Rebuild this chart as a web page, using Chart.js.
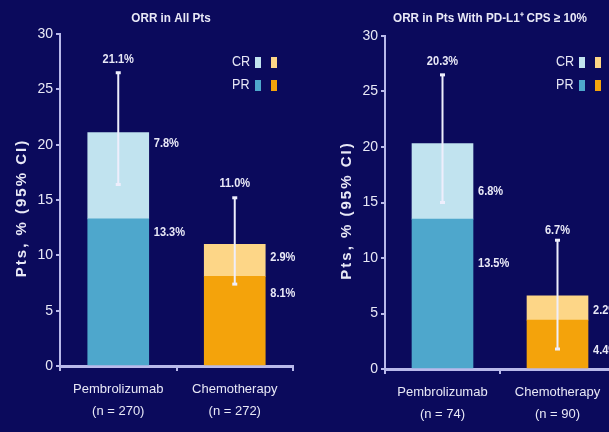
<!DOCTYPE html>
<html>
<head>
<meta charset="utf-8">
<script src="https://cdn.jsdelivr.net/npm/chart.js@4/dist/chart.umd.min.js"></script>
<style>
  html, body { margin: 0; padding: 0; background: #0b0a5c; overflow: hidden; }
  body { width: 609px; height: 432px; position: relative; }
  .panel { position: absolute; top: 0; width: 305px; height: 432px; }
  #left { left: 0; }
  #right { left: 320px; }
</style>
</head>
<body>
<div class="panel" id="left"><canvas id="c1" width="305" height="432"></canvas></div>
<div class="panel" id="right"><canvas id="c2" width="305" height="432"></canvas></div>
<script>
// ---- data ----
const armsAll = [["Pembrolizumab", "(n = 270)"], ["Chemotherapy", "(n = 272)"]];
const prAll = [13.3, 8.1];
const crAll = [7.8, 2.9];
const totalAll = [21.1, 11.0];
const ciLowAll = [16.4, 7.4];
const ciHighAll = [26.5, 15.2];

const armsCps = [["Pembrolizumab", "(n = 74)"], ["Chemotherapy", "(n = 90)"]];
const prCps = [13.5, 4.4];
const crCps = [6.8, 2.2];
const totalCps = [20.3, 6.7];
const ciLowCps = [15.0, 1.8];
const ciHighCps = [26.5, 11.6];

const yTicks = [0, 5, 10, 15, 20, 25, 30];

// ---- style ----
const FONT = "'Liberation Sans', Arial, sans-serif";
const TEXT = "#e8e8f6";
const AXIS = "#b9b9ea";
const PR_COLORS = ["#4ea7cc", "#f4a30b"];
const CR_COLORS = ["#c1e3ef", "#fdd687"];

// text squeezed horizontally, like a narrow typeface
function narrowText(ctx, str, x, y, align, squeeze) {
  ctx.save();
  ctx.translate(x, y);
  ctx.scale(squeeze, 1);
  ctx.textAlign = align;
  ctx.fillText(str, 0, 0);
  ctx.restore();
}

function makePanel(canvasId, cfg) {
  const overlay = {
    id: "overlay",
    afterDatasetsDraw(chart) {
      const ctx = chart.ctx;
      const x = chart.scales.x, y = chart.scales.y;
      const area = chart.chartArea;
      ctx.save();

      // error bars (95% CI)
      ctx.strokeStyle = "#eeeefc";
      ctx.fillStyle = "#eeeefc";
      ctx.lineWidth = 2;
      cfg.total.forEach((_, i) => {
        const cx = x.getPixelForValue(i);
        const yTop = y.getPixelForValue(cfg.ciHigh[i]);
        const yBot = y.getPixelForValue(cfg.ciLow[i]);
        ctx.beginPath();
        ctx.moveTo(cx, yTop);
        ctx.lineTo(cx, yBot);
        ctx.stroke();
        ctx.fillRect(cx - 2.5, yTop - 1.5, 5, 3);
        ctx.fillRect(cx - 2.5, yBot - 1.5, 5, 3);
      });

      // value labels
      ctx.fillStyle = TEXT;
      ctx.font = "bold 13px " + FONT;
      ctx.textBaseline = "middle";
      const meta = chart.getDatasetMeta(0);
      cfg.total.forEach((t, i) => {
        const bar = meta.data[i];
        const cx = x.getPixelForValue(i);
        const right = bar.x + bar.width / 2 + 5;
        narrowText(ctx, t.toFixed(1) + "%", cx, y.getPixelForValue(cfg.ciHigh[i]) - cfg.topGap[i], "center", 0.85);
        narrowText(ctx, cfg.cr[i].toFixed(1) + "%", right, y.getPixelForValue(cfg.pr[i] + cfg.cr[i]) + cfg.crGap[i], "left", 0.85);
        narrowText(ctx, cfg.pr[i].toFixed(1) + "%", right, y.getPixelForValue(cfg.pr[i]) + cfg.prGap[i], "left", 0.85);
      });

      // panel title
      ctx.font = "bold 13px " + FONT;
      narrowText(ctx, cfg.title, cfg.titleX, 18, "center", 0.9);

      // y axis title
      ctx.save();
      ctx.translate(cfg.yTitleX, (area.top + area.bottom) / 2 + 8);
      ctx.rotate(-Math.PI / 2);
      ctx.font = "bold 15px " + FONT;
      ctx.letterSpacing = "2px";
      ctx.textAlign = "center";
      ctx.fillText("Pts, % (95% CI)", 0, 0);
      ctx.restore();

      // legend: CR / PR with one swatch per arm
      ctx.font = "14px " + FONT;
      const lx = cfg.legendX, ly = 62;
      [["CR", CR_COLORS], ["PR", PR_COLORS]].forEach(([name, cols], r) => {
        const yy = ly + r * 23;
        ctx.fillStyle = TEXT;
        narrowText(ctx, name, lx, yy, "left", 0.9);
        cols.forEach((c, k) => {
          ctx.fillStyle = c;
          ctx.fillRect(lx + 23 + k * 16, yy - 5, 6, 11);
        });
      });
      ctx.restore();
    }
  };

  return new Chart(document.getElementById(canvasId), {
    type: "bar",
    data: {
      labels: cfg.arms,
      datasets: [
        { label: "PR", data: cfg.pr, backgroundColor: PR_COLORS, stack: "s" },
        { label: "CR", data: cfg.cr, backgroundColor: CR_COLORS, stack: "s" }
      ]
    },
    options: {
      responsive: false,
      animation: false,
      devicePixelRatio: 1,
      layout: { padding: { top: cfg.top, right: 305 - cfg.right, left: 0, bottom: 0 } },
      plugins: { legend: { display: false }, tooltip: { enabled: false } },
      datasets: { bar: { barThickness: 61 } },
      scales: {
        x: {
          stacked: true,
          grid: { display: true, drawOnChartArea: false, color: AXIS, lineWidth: 2, tickLength: 5 },
          border: { display: true, color: AXIS, width: 3 },
          ticks: { color: TEXT, font: { family: FONT, size: 13, lineHeight: 1.7 }, padding: 7 },
          afterFit(s) { s.height = 432 - cfg.bottom; }
        },
        y: {
          stacked: true,
          min: 0, max: 30,
          afterBuildTicks(s) { s.ticks = yTicks.map(v => ({ value: v })); },
          grid: { display: true, drawOnChartArea: false, color: AXIS, lineWidth: 2, tickLength: 4 },
          border: { display: true, color: AXIS, width: 2 },
          ticks: { color: TEXT, font: { family: FONT, size: 14 }, padding: 3 },
          afterFit(s) { s.width = cfg.left; }
        }
      }
    },
    plugins: [overlay]
  });
}

makePanel("c1", {
  arms: armsAll, pr: prAll, cr: crAll, total: totalAll, ciLow: ciLowAll, ciHigh: ciHighAll,
  title: "ORR in All Pts", titleX: 171,
  left: 60, right: 293, top: 34, bottom: 366,
  yTitleX: 22, legendX: 232,
  topGap: [13, 14], crGap: [11, 13], prGap: [14, 17]
});

makePanel("c2", {
  arms: armsCps, pr: prCps, cr: crCps, total: totalCps, ciLow: ciLowCps, ciHigh: ciHighCps,
  title: "ORR in Pts With PD-L1\u207A CPS \u2265 10%", titleX: 170,
  left: 65, right: 295, top: 36, bottom: 369,
  yTitleX: 27, legendX: 236,
  topGap: [13, 10], crGap: [48, 15], prGap: [44, 30]
});
</script>
</body>
</html>
